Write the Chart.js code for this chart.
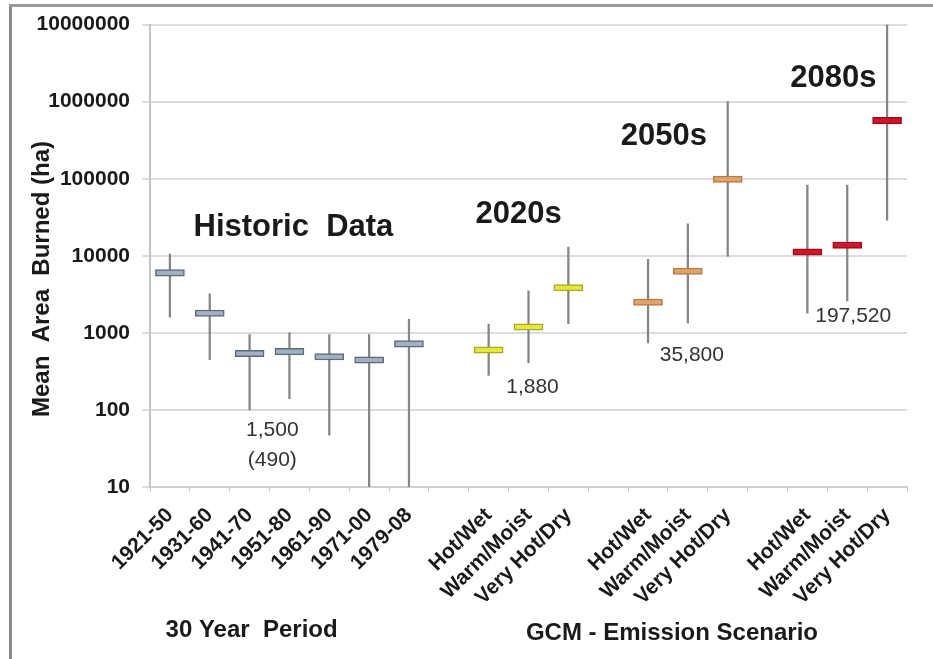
<!DOCTYPE html>
<html>
<head>
<meta charset="utf-8">
<script src="https://cdn.jsdelivr.net/npm/chart.js@4"></script>
<style>
  html, body { margin: 0; padding: 0; background: #fff; }
  #wrap { position: relative; width: 933px; height: 659px; overflow: hidden; }
  #frameLeft { position: absolute; left: 9px; top: 4px; width: 3px; height: 655px; background: #8a8a8a; }
  #frameTop { position: absolute; left: 9px; top: 4px; width: 924px; height: 3px; background: #9a9a9a; }
  canvas { position: absolute; left: 0; top: 0; }
</style>
</head>
<body>
<div id="wrap">
  <canvas id="chart" width="933" height="659"></canvas>
  <div id="frameLeft"></div>
  <div id="frameTop"></div>
</div>
<script>
// Categories: seven historic 30-year periods, then three GCM scenarios for each future period
const categories = [
  '1921-50', '1931-60', '1941-70', '1951-80', '1961-90', '1971-00', '1979-08', '',
  'Hot/Wet', 'Warm/Moist', 'Very Hot/Dry', '',
  'Hot/Wet', 'Warm/Moist', 'Very Hot/Dry', '',
  'Hot/Wet', 'Warm/Moist', 'Very Hot/Dry'
];
// Period each category belongs to (drives the box colour)
const periodOf = [
  'hist', 'hist', 'hist', 'hist', 'hist', 'hist', 'hist', null,
  'p2020', 'p2020', 'p2020', null,
  'p2050', 'p2050', 'p2050', null,
  'p2080', 'p2080', 'p2080'
];
// Mean area burned (ha)
const meanBurned = [
  6000, 1800, 540, 570, 490, 445, 720, null,
  600, 1190, 3850, null,
  2500, 6300, 98600, null,
  11200, 13700, 567700
];
// Range of annual area burned (ha)
const lowBurned = [
  1600, 450, 100, 140, 47, 10, 10, null,
  280, 410, 1320, null,
  740, 1350, 9800, null,
  1800, 2600, 29000
];
const highBurned = [
  10500, 3200, 950, 1000, 950, 950, 1500, null,
  1300, 3500, 13000, null,
  9000, 26000, 1000000, null,
  83000, 83000, 10000000
];
// Log axis ticks
const yTicks = [10, 100, 1000, 10000, 100000, 1000000, 10000000];

// Period labels and group means written on the plot: [text, category position, value]
const periodTitles = [
  ['Historic  Data', 3.1, 23000],
  ['2020s', 8.75, 34000],
  ['2050s', 12.4, 350000],
  ['2080s', 16.65, 2000000]
];
const groupMeans = [
  ['1,500', 2.57, 54],
  ['(490)', 2.57, 22],
  ['1,880', 9.1, 200],
  ['35,800', 13.1, 520],
  ['197,520', 17.15, 1650]
];

const FONT = '"Liberation Sans", Arial, sans-serif';
const fill = { hist: '#a2b0c0', p2020: '#e4e83c', p2050: '#e2a466', p2080: '#d0142c' };
const edge = { hist: '#5c6b7c', p2020: '#a9ab22', p2050: '#b27a44', p2080: '#a10a1c' };
const BOX_HALF = Math.pow(10, 0.042); // half box height on the log axis

const annotations = {
  id: 'annotations',
  afterDatasetsDraw(chart) {
    const { ctx } = chart;
    const x = chart.scales.x, y = chart.scales.y;
    ctx.save();
    ctx.textAlign = 'center';
    ctx.textBaseline = 'middle';
    ctx.fillStyle = '#1a1a1a';
    ctx.font = 'bold 31px ' + FONT;
    periodTitles.forEach(([t, c, v]) => ctx.fillText(t, x.getPixelForValue(c), y.getPixelForValue(v)));
    ctx.fillStyle = '#333';
    ctx.font = '21px ' + FONT;
    groupMeans.forEach(([t, c, v]) => ctx.fillText(t, x.getPixelForValue(c), y.getPixelForValue(v)));
    // Axis titles
    ctx.fillStyle = '#1a1a1a';
    ctx.font = 'bold 24px ' + FONT;
    ctx.fillText('30 Year  Period', x.getPixelForValue(2.05), chart.height - 29);
    ctx.fillText('GCM - Emission Scenario', x.getPixelForValue(12.6), chart.height - 26);
    ctx.translate(42, 279);
    ctx.rotate(-Math.PI / 2);
    ctx.fillText('Mean  Area  Burned (ha)', 0, 0);
    ctx.restore();
  }
};

new Chart(document.getElementById('chart'), {
  type: 'bar',
  data: {
    labels: categories,
    datasets: [
      {
        label: 'Mean',
        data: meanBurned.map(v => v == null ? null : [v / BOX_HALF, v * BOX_HALF]),
        backgroundColor: periodOf.map(p => p ? fill[p] : 'transparent'),
        borderColor: periodOf.map(p => p ? edge[p] : 'transparent'),
        borderWidth: 1.5,
        borderSkipped: false,
        barThickness: 29,
        grouped: false,
        order: 1
      },
      {
        label: 'Range',
        data: lowBurned.map((v, i) => v == null ? null : [v, highBurned[i]]),
        backgroundColor: '#858585',
        borderWidth: 0,
        barThickness: 1.6,
        grouped: false,
        order: 2
      }
    ]
  },
  options: {
    responsive: false,
    animation: false,
    layout: { padding: { left: 14, right: 26, top: 22, bottom: 0 } },
    plugins: { legend: { display: false }, tooltip: { enabled: false } },
    scales: {
      x: {
        offset: true,
        grid: { display: true, drawOnChartArea: false, drawTicks: true, tickLength: 5, color: '#cfcfcf', offset: true },
        border: { color: '#cfcfcf', width: 2 },
        ticks: {
          autoSkip: false, minRotation: 45, maxRotation: 45, padding: 11,
          color: '#1a1a1a',
          font: { family: FONT, size: 21, weight: 'bold' }
        },
        afterFit: s => { s.height = 172; }
      },
      y: {
        type: 'logarithmic',
        min: 10, max: 10000000,
        afterBuildTicks: s => { s.ticks = yTicks.map(v => ({ value: v })); },
        grid: { color: '#dcdcdc', lineWidth: 2, tickLength: 8 },
        border: { color: '#c4c4c4', width: 2 },
        ticks: {
          padding: 12,
          color: '#1a1a1a',
          font: { family: FONT, size: 21, weight: 'bold' },
          callback: v => String(v)
        },
        afterFit: s => { s.width = 136; }
      }
    }
  },
  plugins: [annotations]
});
</script>
</body>
</html>
